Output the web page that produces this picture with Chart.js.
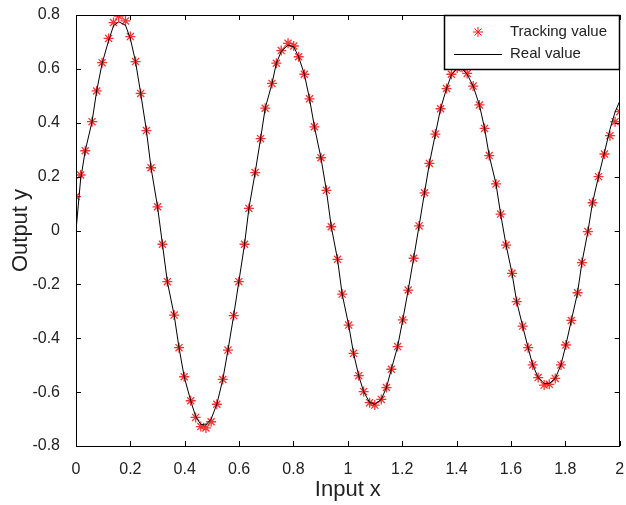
<!DOCTYPE html>
<html>
<head>
<meta charset="utf-8">
<script src="https://cdn.jsdelivr.net/npm/chart.js@4"></script>
<style>
  html, body { margin: 0; padding: 0; background: #fff; }
  #wrap { width: 626px; height: 505px; }
</style>
</head>
<body>
<div id="wrap"><canvas id="trackChart" width="626" height="505"></canvas></div>
<script>
// tracking values (red asterisks)
const trackX = [0.000, 0.017, 0.034, 0.059, 0.076, 0.096, 0.120, 0.138, 0.157, 0.182,
    0.200, 0.219, 0.238, 0.259, 0.276, 0.300, 0.318, 0.336, 0.361, 0.379,
    0.398, 0.422, 0.440, 0.459, 0.478, 0.497, 0.518, 0.540, 0.559, 0.580,
    0.599, 0.620, 0.636, 0.659, 0.679, 0.696, 0.721, 0.737, 0.755, 0.780,
    0.801, 0.819, 0.840, 0.859, 0.877, 0.901, 0.921, 0.939, 0.962, 0.979,
    1.003, 1.021, 1.040, 1.058, 1.080, 1.099, 1.123, 1.142, 1.160, 1.183,
    1.202, 1.222, 1.242, 1.262, 1.282, 1.300, 1.322, 1.341, 1.363, 1.381,
    1.402, 1.420, 1.439, 1.461, 1.484, 1.503, 1.520, 1.545, 1.562, 1.582,
    1.604, 1.621, 1.643, 1.663, 1.680, 1.700, 1.722, 1.741, 1.763, 1.784,
    1.802, 1.822, 1.845, 1.861, 1.883, 1.900, 1.922, 1.944, 1.964, 1.983, 2.000];
const trackY = [0.126, 0.206, 0.296, 0.404, 0.518, 0.623, 0.713, 0.772, 0.796, 0.778,
    0.720, 0.627, 0.509, 0.371, 0.233, 0.088, -0.051, -0.190, -0.314, -0.435,
    -0.543, -0.632, -0.694, -0.728, -0.733, -0.710, -0.645, -0.553, -0.444, -0.316,
    -0.190, -0.051, 0.082, 0.215, 0.341, 0.454, 0.546, 0.621, 0.668, 0.695,
    0.685, 0.645, 0.580, 0.489, 0.385, 0.270, 0.149, 0.014, -0.107, -0.236,
    -0.351, -0.456, -0.539, -0.598, -0.639, -0.648, -0.627, -0.583, -0.515, -0.431,
    -0.332, -0.221, -0.103, 0.017, 0.140, 0.249, 0.358, 0.452, 0.527, 0.580,
    0.603, 0.606, 0.583, 0.536, 0.466, 0.379, 0.278, 0.173, 0.061, -0.054,
    -0.159, -0.264, -0.355, -0.435, -0.499, -0.546, -0.574, -0.571, -0.549, -0.499,
    -0.425, -0.334, -0.231, -0.119, -0.004, 0.103, 0.200, 0.284, 0.352, 0.404, 0.441];

// real value (black line)
const realX = [0.000, 0.017, 0.034, 0.059, 0.076, 0.096, 0.120, 0.138, 0.157, 0.182,
    0.200, 0.219, 0.238, 0.259, 0.276, 0.300, 0.318, 0.336, 0.361, 0.379,
    0.398, 0.422, 0.440, 0.459, 0.478, 0.497, 0.518, 0.540, 0.559, 0.580,
    0.599, 0.620, 0.636, 0.659, 0.679, 0.696, 0.721, 0.737, 0.755, 0.780,
    0.801, 0.819, 0.840, 0.859, 0.877, 0.901, 0.921, 0.939, 0.962, 0.979,
    1.003, 1.021, 1.040, 1.058, 1.080, 1.099, 1.123, 1.142, 1.160, 1.183,
    1.202, 1.222, 1.242, 1.262, 1.282, 1.300, 1.322, 1.341, 1.363, 1.381,
    1.402, 1.420, 1.439, 1.461, 1.484, 1.503, 1.520, 1.545, 1.562, 1.582,
    1.604, 1.621, 1.643, 1.663, 1.680, 1.700, 1.722, 1.741, 1.763, 1.784,
    1.802, 1.822, 1.845, 1.861, 1.883, 1.900, 1.922, 1.944, 1.964, 1.983, 2.000];
const realY = [0.000, 0.190, 0.296, 0.404, 0.518, 0.620, 0.705, 0.760, 0.775, 0.762,
    0.712, 0.627, 0.509, 0.371, 0.233, 0.088, -0.051, -0.190, -0.314, -0.435,
    -0.543, -0.632, -0.690, -0.720, -0.722, -0.700, -0.645, -0.553, -0.444, -0.316,
    -0.190, -0.051, 0.082, 0.215, 0.341, 0.454, 0.546, 0.621, 0.665, 0.688,
    0.682, 0.645, 0.580, 0.489, 0.385, 0.270, 0.149, 0.014, -0.107, -0.236,
    -0.351, -0.456, -0.539, -0.598, -0.638, -0.645, -0.627, -0.583, -0.515, -0.431,
    -0.332, -0.221, -0.103, 0.017, 0.140, 0.249, 0.358, 0.452, 0.527, 0.578,
    0.600, 0.600, 0.580, 0.536, 0.466, 0.379, 0.278, 0.173, 0.061, -0.054,
    -0.159, -0.264, -0.355, -0.435, -0.499, -0.546, -0.568, -0.568, -0.549, -0.499,
    -0.425, -0.334, -0.231, -0.119, -0.004, 0.103, 0.200, 0.290, 0.375, 0.440, 0.480];

const xMin = 0, xMax = 2, xStep = 0.2;
const yMin = -0.8, yMax = 0.8, yStep = 0.2;
const legendLabels = ['Tracking value', 'Real value'];

const FONT = '"Liberation Sans", Arial, Helvetica, sans-serif';

// 1.0 -> "1", 0.2 -> "0.2"
function fmt(v) {
    return String(Number(v.toFixed(1)));
}

document.addEventListener('DOMContentLoaded', function() {
    if (typeof Chart === 'undefined') {
        console.error('Chart.js is not loaded!');
        return;
    }

    // box, inward ticks on all four sides, legend inside top-right corner
    const framePlugin = {
        id: 'frame',
        afterDatasetsDraw(chart) {
            const ctx = chart.ctx;
            const a = chart.chartArea;
            const xs = chart.scales.x, ys = chart.scales.y;
            ctx.save();
            ctx.strokeStyle = '#000';
            ctx.lineWidth = 1;
            ctx.beginPath();
            xs.ticks.forEach(t => {
                const px = Math.round(xs.getPixelForValue(t.value)) + 0.5;
                ctx.moveTo(px, a.bottom); ctx.lineTo(px, a.bottom - 5);
                ctx.moveTo(px, a.top); ctx.lineTo(px, a.top + 5);
            });
            ys.ticks.forEach(t => {
                const py = Math.round(ys.getPixelForValue(t.value)) + 0.5;
                ctx.moveTo(a.left, py); ctx.lineTo(a.left + 5, py);
                ctx.moveTo(a.right, py); ctx.lineTo(a.right - 5, py);
            });
            ctx.stroke();
            ctx.strokeRect(Math.round(a.left) + 0.5, Math.round(a.top) + 0.5,
                Math.round(a.right - a.left) - 1, Math.round(a.bottom - a.top));

            // legend
            const lw = 176, lh = 54;
            const lx = Math.round(a.right) - lw, ly = Math.round(a.top);
            ctx.fillStyle = '#fff';
            ctx.fillRect(lx, ly, lw, lh);
            ctx.lineWidth = 1.5;
            ctx.strokeRect(lx + 0.5, ly + 0.5, lw - 1, lh);
            ctx.font = '15px ' + FONT;
            ctx.fillStyle = '#222';
            ctx.textBaseline = 'middle';
            ctx.fillText(legendLabels[0], lx + 66, ly + 17);
            ctx.fillText(legendLabels[1], lx + 66, ly + 39);
            // asterisk sample
            const cx = lx + 34, cy = ly + 17, r = 5;
            ctx.strokeStyle = '#f02020';
            ctx.lineWidth = 1;
            ctx.beginPath();
            for (let k = 0; k < 4; k++) {
                const ang = k * Math.PI / 4;
                ctx.moveTo(cx - r * Math.cos(ang), cy - r * Math.sin(ang));
                ctx.lineTo(cx + r * Math.cos(ang), cy + r * Math.sin(ang));
            }
            ctx.stroke();
            ctx.strokeStyle = '#000';
            ctx.beginPath();
            ctx.moveTo(lx + 10, ly + 39.5);
            ctx.lineTo(lx + 58, ly + 39.5);
            ctx.stroke();
            ctx.restore();
        }
    };

    try {
        const el = document.getElementById('trackChart');
        new Chart(el.getContext('2d'), {
            type: 'scatter',
            data: {
                datasets: [{
                    label: legendLabels[1],
                    data: realX.map((x, i) => ({ x: x, y: realY[i] })),
                    showLine: true,
                    borderColor: '#000',
                    borderWidth: 1,
                    pointRadius: 0,
                    tension: 0
                }, {
                    label: legendLabels[0],
                    data: trackX.map((x, i) => ({ x: x, y: trackY[i] })),
                    showLine: false,
                    pointStyle: 'star',
                    pointRadius: 5,
                    borderColor: 'rgba(240, 30, 30, 0.9)',
                    backgroundColor: 'rgba(240, 30, 30, 0.9)',
                    borderWidth: 1.3
                }]
            },
            options: {
                responsive: false,
                animation: false,
                layout: { padding: { top: 15, right: 6, left: 0, bottom: 0 } },
                plugins: {
                    legend: { display: false },
                    tooltip: { enabled: false }
                },
                scales: {
                    x: {
                        type: 'linear',
                        min: xMin, max: xMax,
                        grid: { display: false },
                        border: { display: false },
                        ticks: {
                            stepSize: xStep,
                            padding: 6,
                            color: '#222',
                            font: { family: FONT, size: 16 },
                            maxRotation: 0,
                            callback: v => fmt(v)
                        },
                        title: {
                            display: true,
                            text: 'Input x',
                            color: '#222',
                            font: { family: FONT, size: 22 },
                            padding: { top: 0, bottom: 2 }
                        },
                        afterFit: s => {
                            s.height = 59;
                            s.paddingLeft = 0;
                            s.paddingRight = 0;
                        }
                    },
                    y: {
                        type: 'linear',
                        min: yMin, max: yMax,
                        grid: { display: false },
                        border: { display: false },
                        ticks: {
                            stepSize: yStep,
                            padding: 8,
                            color: '#222',
                            font: { family: FONT, size: 16 },
                            callback: v => fmt(v)
                        },
                        title: {
                            display: true,
                            text: 'Output y',
                            color: '#222',
                            font: { family: FONT, size: 22 },
                            padding: { top: 8, bottom: 0 }
                        },
                        afterFit: s => {
                            s.width = 76;
                            s.paddingTop = 0;
                            s.paddingBottom = 0;
                        }
                    }
                }
            },
            plugins: [framePlugin]
        });
    } catch (error) {
        console.error('Error initializing chart:', error);
    }
});
</script>
</body>
</html>
